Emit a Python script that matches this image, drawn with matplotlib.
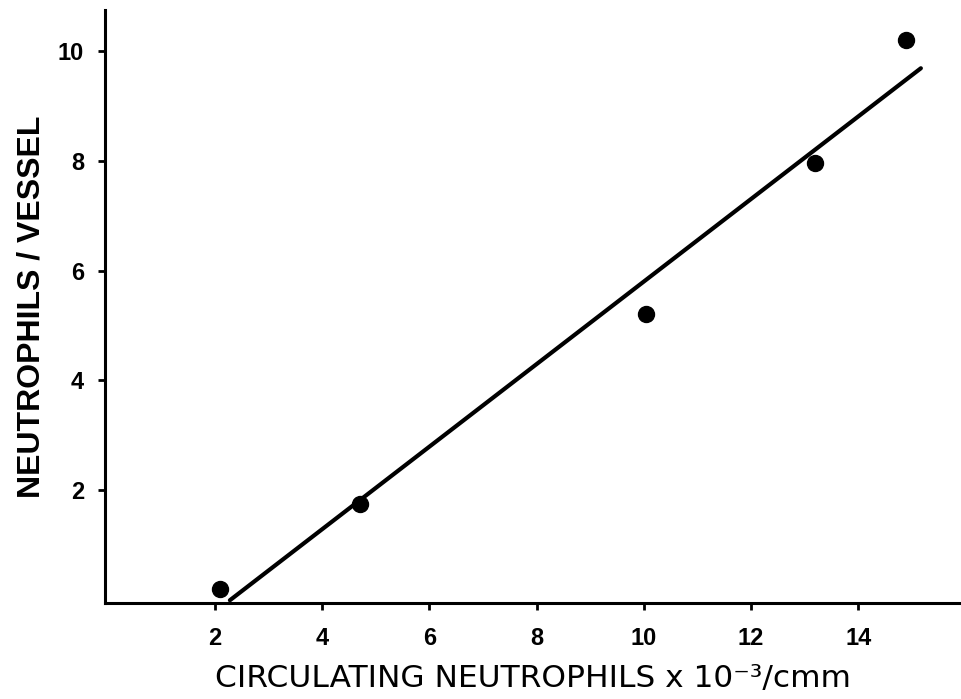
import numpy as np
import matplotlib
matplotlib.use('Agg')
import matplotlib.pyplot as plt
import matplotlib.ticker as ticker

# circulating count (x 10^-3 / cmm) vs neutrophils per vessel
circ = [2.1, 4.7, 10.05, 13.2, 14.9]
per_vessel = [0.2, 1.75, 5.2, 7.95, 10.2]

# regression line end points
fit_x = [2.28, 15.17]
fit_y = [0.0, 9.68]

xticks = [2, 4, 6, 8, 10, 12, 14]
yticks = [2, 4, 6, 8, 10]

plt.rcParams['font.family'] = ['Liberation Sans', 'DejaVu Sans']

fig = plt.figure(figsize=(9.61, 6.99), dpi=100)
ax = fig.add_axes([105 / 961, 96 / 699, 855 / 961, 593 / 699])

ax.plot(fit_x, fit_y, color='black', linewidth=3.0, solid_capstyle='round')
ax.plot(circ, per_vessel, 'o', color='black', markersize=11.5)

ax.set_xlim(-0.05, 15.9)
ax.set_ylim(-0.05, 10.74)

ax.spines['top'].set_visible(False)
ax.spines['right'].set_visible(False)
for s in ('left', 'bottom'):
    ax.spines[s].set_linewidth(2.2)

ax.xaxis.set_major_locator(ticker.FixedLocator(xticks))
ax.yaxis.set_major_locator(ticker.FixedLocator(yticks))
ax.tick_params(direction='out', length=5, width=2, labelsize=17)
ax.tick_params(axis='x', pad=12)
ax.tick_params(axis='y', pad=10)
for lab in ax.get_xticklabels() + ax.get_yticklabels():
    lab.set_fontweight('bold')

ax.set_xlabel('CIRCULATING NEUTROPHILS x 10\u207b\u00b3/cmm', fontsize=22.5,
              family=['DejaVu Sans'], labelpad=10)
ax.set_ylabel('NEUTROPHILS / VESSEL', fontsize=23, fontweight='bold', labelpad=8)

fig.savefig('out.png', dpi=100)
